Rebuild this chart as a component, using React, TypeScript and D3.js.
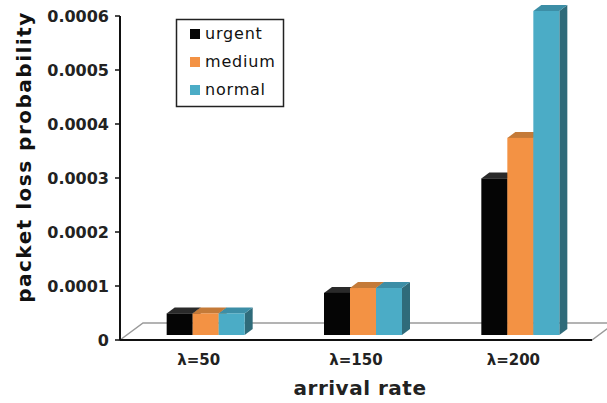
// Packet loss probability by arrival rate - pseudo-3D grouped bars

import { useEffect, useRef } from "react";
import * as d3 from "d3";

const categories = ["λ=50", "λ=150", "λ=200"];
const seriesNames = ["urgent", "medium", "normal"];
const urgent = [0.00004, 0.000078, 0.00029];
const medium = [0.00004, 0.000087, 0.000365];
const normal = [0.00004, 0.000087, 0.0006];
const yTicks = [0, 0.0001, 0.0002, 0.0003, 0.0004, 0.0005, 0.0006];

const W = 607;
const H = 403;

export default function App() {
  const svgRef = useRef<SVGSVGElement>(null);

  useEffect(() => {
    if (!svgRef.current) return;
    const svg = d3.select(svgRef.current);
    svg.selectAll("*").remove();

    const left = 120;
    const right = 592;
    const bottom = 340;
    const top = 16;
    const lift = 5; // bars sit a little behind the front edge of the floor
    const depthX = 8;
    const depthY = 6;

    const y = d3.scaleLinear().domain([0, 0.0006]).range([bottom, top]);
    const x0 = d3.scaleBand().domain(categories).range([left, right]);
    const groupW = 78;
    const x1 = d3.scaleBand().domain(seriesNames).range([0, groupW]);

    const colors: Record<string, { front: string; top: string; side: string }> = {
      urgent: { front: "#050505", top: "#2a2a2a", side: "#1a1a1a" },
      medium: { front: "#f39244", top: "#c47a38", side: "#b06a2c" },
      normal: { front: "#4bacc6", top: "#3c8ea6", side: "#2f6b7a" },
    };
    const values: Record<string, number[]> = { urgent, medium, normal };

    // Floor
    const fdx = 23;
    const fdy = 17;
    svg.append("path")
      .attr("d", `M${left},${bottom} L${left + fdx},${bottom - fdy} L${right + fdx},${bottom - fdy} L${right},${bottom} Z`)
      .attr("fill", "#fff")
      .attr("stroke", "#9a9a9a")
      .attr("stroke-width", 1.5);
    svg.append("line")
      .attr("x1", left).attr("x2", right)
      .attr("y1", bottom).attr("y2", bottom)
      .attr("stroke", "#111")
      .attr("stroke-width", 2);

    // Bars
    categories.forEach((cat, ci) => {
      const gx = (x0(cat) ?? 0) + (x0.bandwidth() - groupW) / 2 + 7;
      const g = svg.append("g").attr("transform", `translate(${gx},0)`);
      seriesNames.forEach((s) => {
        const v = values[s][ci];
        const bx = x1(s) ?? 0;
        const bw = x1.bandwidth();
        const yt = y(v) - lift;
        const yb = y(0) - lift;
        const c = colors[s];
        // side
        g.append("path")
          .attr("d", `M${bx + bw},${yt} L${bx + bw + depthX},${yt - depthY} L${bx + bw + depthX},${yb - depthY} L${bx + bw},${yb} Z`)
          .attr("fill", c.side);
        // top
        g.append("path")
          .attr("d", `M${bx},${yt} L${bx + depthX},${yt - depthY} L${bx + bw + depthX},${yt - depthY} L${bx + bw},${yt} Z`)
          .attr("fill", c.top);
        // front
        g.append("rect")
          .attr("x", bx)
          .attr("y", yt)
          .attr("width", bw)
          .attr("height", yb - yt)
          .attr("fill", c.front);
      });
    });

    // Y axis
    svg.append("line")
      .attr("x1", left).attr("x2", left)
      .attr("y1", top).attr("y2", bottom)
      .attr("stroke", "#111")
      .attr("stroke-width", 2);
    yTicks.forEach((t) => {
      svg.append("line")
        .attr("x1", left - 5).attr("x2", left)
        .attr("y1", y(t)).attr("y2", y(t))
        .attr("stroke", "#111")
        .attr("stroke-width", 1.5);
      svg.append("text")
        .attr("x", left - 11)
        .attr("y", y(t))
        .attr("dy", "0.36em")
        .attr("text-anchor", "end")
        .attr("fill", "#222")
        .style("font-family", "DejaVu Sans")
        .style("font-weight", "bold")
        .style("font-size", "16px")
        .text(t === 0 ? "0" : t.toFixed(4));
    });

    // Category labels
    categories.forEach((cat) => {
      svg.append("text")
        .attr("x", (x0(cat) ?? 0) + x0.bandwidth() / 2)
        .attr("y", 365)
        .attr("text-anchor", "middle")
        .attr("fill", "#222")
        .style("font-family", "DejaVu Sans")
        .style("font-weight", "bold")
        .style("font-size", "15px")
        .text(cat);
    });

    // Axis titles
    svg.append("text")
      .attr("x", 360)
      .attr("y", 395)
      .attr("text-anchor", "middle")
      .attr("fill", "#222")
      .style("font-family", "DejaVu Sans")
      .style("font-weight", "bold")
      .style("font-size", "20px")
      .style("letter-spacing", "0.5px")
      .text("arrival rate");

    svg.append("text")
      .attr("transform", `translate(31,157) rotate(-90)`)
      .attr("text-anchor", "middle")
      .attr("fill", "#111")
      .style("font-family", "DejaVu Sans")
      .style("font-weight", "bold")
      .style("font-size", "20px")
      .style("letter-spacing", "1.5px")
      .text("packet loss probability");

    // Legend
    const lg = svg.append("g");
    lg.append("rect")
      .attr("x", 176.5).attr("y", 19.5)
      .attr("width", 107).attr("height", 87)
      .attr("fill", "#fff")
      .attr("stroke", "#222")
      .attr("stroke-width", 1.5);
    seriesNames.forEach((s, i) => {
      const cy = 34 + i * 28;
      lg.append("rect")
        .attr("x", 190).attr("y", cy - 5)
        .attr("width", 10).attr("height", 10)
        .attr("fill", colors[s].front);
      lg.append("text")
        .attr("x", 205)
        .attr("y", cy + 5)
        .attr("fill", "#111")
        .style("font-family", "DejaVu Sans")
        .style("font-size", "16px")
        .style("letter-spacing", "0.8px")
        .text(s);
    });
  }, []);

  return (
    <svg
      ref={svgRef}
      width={W}
      height={H}
      style={{ position: "absolute", left: 0, top: 0, background: "#fff" }}
    />
  );
}
